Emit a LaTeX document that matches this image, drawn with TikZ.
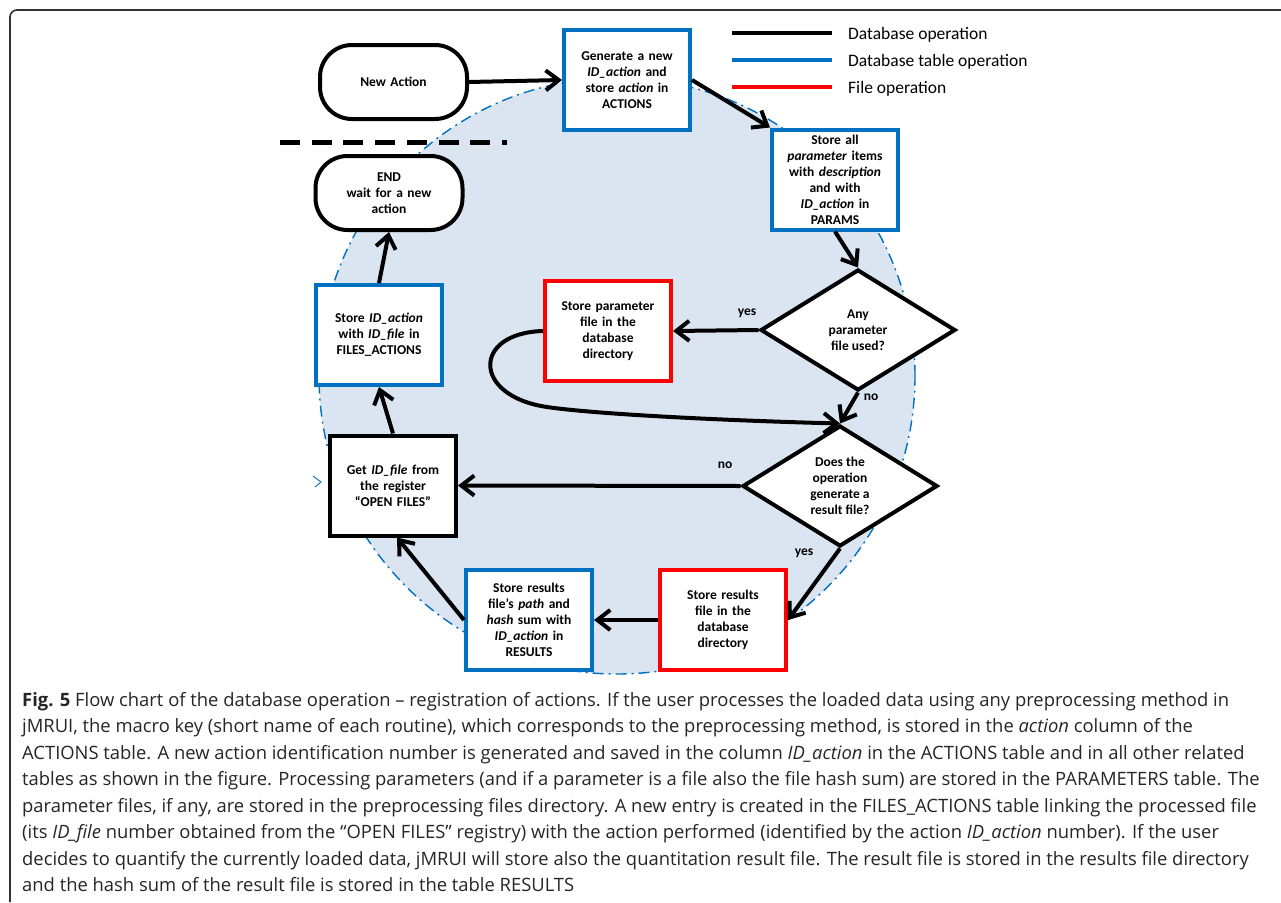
\documentclass[tikz,border=0pt]{standalone}
\usepackage{fontspec}
\setmainfont{Open Sans}
\newfontfamily\cfont{Carlito}
\usetikzlibrary{arrows.meta,shapes.geometric}

\definecolor{dbblue}{RGB}{0,112,192}
\definecolor{dbred}{RGB}{255,0,0}
\definecolor{zone}{RGB}{219,229,241}
\definecolor{captext}{RGB}{40,36,37}

\begin{document}
\begin{tikzpicture}[x=1pt,y=-1pt,
  every node/.style={font=\cfont\bfseries\fontsize{13.5}{16}\selectfont},
  boxbase/.style={draw, line width=4pt, fill=white, minimum width=126pt,
    minimum height=100pt, inner sep=0pt, text width=120pt, align=center},
  tablebox/.style={boxbase, draw=dbblue},
  filebox/.style={boxbase, draw=dbred},
  opbox/.style={boxbase, draw=black},
  terminal/.style={draw=black, line width=4pt, fill=white, rounded corners=32pt,
    minimum width=147pt, minimum height=74pt, inner sep=0pt, text width=130pt, align=center},
  decision/.style={diamond, aspect=1.6, draw=black, line width=4pt, fill=white,
    minimum width=195pt, minimum height=121pt, inner sep=0pt, align=center},
  flow/.style={line width=4pt, -{Straight Barb[length=13pt,width=20pt]}},
  lbl/.style={inner sep=0pt},
  legendtxt/.style={font=\cfont\fontsize{17.5}{20}\selectfont, anchor=base west, inner sep=0pt},
  captionline/.style={font=\rmfamily\mdseries\fontsize{18.4}{22}\selectfont, text=captext,
    anchor=base west, inner sep=0pt}
]
\useasboundingbox (0,0) rectangle (1281,902);

% panel frame
\draw[line width=1.6pt, black!80, rounded corners=7pt] (10,902) -- (10,10) -- (1281,10);

% shaded zone of the action cycle
\draw[dbblue, line width=1.4pt, fill=zone, dash pattern=on 11pt off 5pt on 2pt off 5pt]
  (617,376) circle[radius=298pt];
\draw[dbblue, line width=0.9pt] (313,476) -- (321,482) -- (315,487);

% legend
\draw[line width=4.5pt, black]  (732,33) -- (832,33);
\draw[line width=4.5pt, dbblue] (732,60) -- (832,60);
\draw[line width=4.5pt, dbred]  (732,87) -- (832,87);
\node[legendtxt] (lg1) at (848,39) {Database operation};
\node[legendtxt] (lg2) at (848,66) {Database table operation};
\node[legendtxt] (lg3) at (848,93) {File operation};

% separator between start and end
\draw[line width=5pt, dash pattern=on 20pt off 11.7pt] (280,142) -- (507,142);

% nodes
\node[terminal] (new) at (393.5,82) {New Action};
\node[tablebox] (gen) at (627,80) {Generate a new\\ \textit{ID\_action} and\\ store \textit{action} in\\ ACTIONS};
\node[tablebox] (params) at (835,179.5) {Store all\\ \textit{parameter} items\\ with \textit{description}\\ and with\\ \textit{ID\_action} in\\ PARAMS};
\node[terminal] (end) at (389,193) {END\\ wait for a new\\ action};
\node[tablebox] (files) at (379,335) {Store \textit{ID\_action}\\ with \textit{ID\_file} in\\ FILES\_ACTIONS};
\node[filebox] (pfile) at (608,331) {Store parameter\\ file in the\\ database\\ directory};
\node[decision] (d1) at (858,330) {Any\\ parameter\\ file used?};
\node[decision] (d2) at (840,486) {Does the\\ operation\\ generate a\\ result file?};
\node[opbox] (get) at (393,485.5) {Get \textit{ID\_file} from\\ the register\\ “OPEN FILES”};
\node[tablebox] (results) at (529,620) {Store results\\ file’s \textit{path} and\\ \textit{hash} sum with\\ \textit{ID\_action} in\\ RESULTS};
\node[filebox] (rfile) at (723,620) {Store results\\ file in the\\ database\\ directory};

% connectors
\draw[flow] (new.east) -- (gen.west);
\draw[flow] (gen.east) -- (params.north west);
\draw[flow] (params.south) -- (d1.north);
\draw[flow] (d1.west) -- (pfile.east);
\draw[flow] (d1.south) -- (d2.north);
\draw[flow] (pfile.west) .. controls (472,333) and (472,396) .. (547,407)
  .. controls (600,414.8) and (740,421) .. (d2.north);
\draw[flow] (d2.west) -- (get.east);
\draw[flow] (d2.south) -- (rfile.east);
\draw[flow] (rfile.west) -- (results.east);
\draw[flow] (results.west) -- ([xshift=4pt]get.south);
\draw[flow] (get.north) -- (files.south);
\draw[flow] (files.north) -- (end.south);

% branch labels
\node[lbl] (yes1) at (747,313) {yes};
\node[lbl] (no1) at (871,397) {no};
\node[lbl] (no2) at (725,465) {no};
\node[lbl] (yes2) at (804,553) {yes};

% caption
\node[captionline] (c1) at (22,706) {\textbf{Fig. 5} Flow chart of the database operation – registration of actions. If the user processes the loaded data using any preprocessing method in};
\node[captionline] (c2) at (22,732.5) {jMRUI, the macro key (short name of each routine), which corresponds to the preprocessing method, is stored in the \textit{action} column of the};
\node[captionline] (c3) at (22,759) {ACTIONS table. A new action identification number is generated and saved in the column \textit{ID\_action} in the ACTIONS table and in all other related};
\node[captionline] (c4) at (22,785.5) {tables as shown in the figure. Processing parameters (and if a parameter is a file also the file hash sum) are stored in the PARAMETERS table. The};
\node[captionline] (c5) at (22,812) {parameter files, if any, are stored in the preprocessing files directory. A new entry is created in the FILES\_ACTIONS table linking the processed file};
\node[captionline] (c6) at (22,838.5) {(its \textit{ID\_file} number obtained from the “OPEN FILES” registry) with the action performed (identified by the action \textit{ID\_action} number). If the user};
\node[captionline] (c7) at (22,865) {decides to quantify the currently loaded data, jMRUI will store also the quantitation result file. The result file is stored in the results file directory};
\node[captionline] (c8) at (22,891.5) {and the hash sum of the result file is stored in the table RESULTS};
\end{tikzpicture}
\end{document}
